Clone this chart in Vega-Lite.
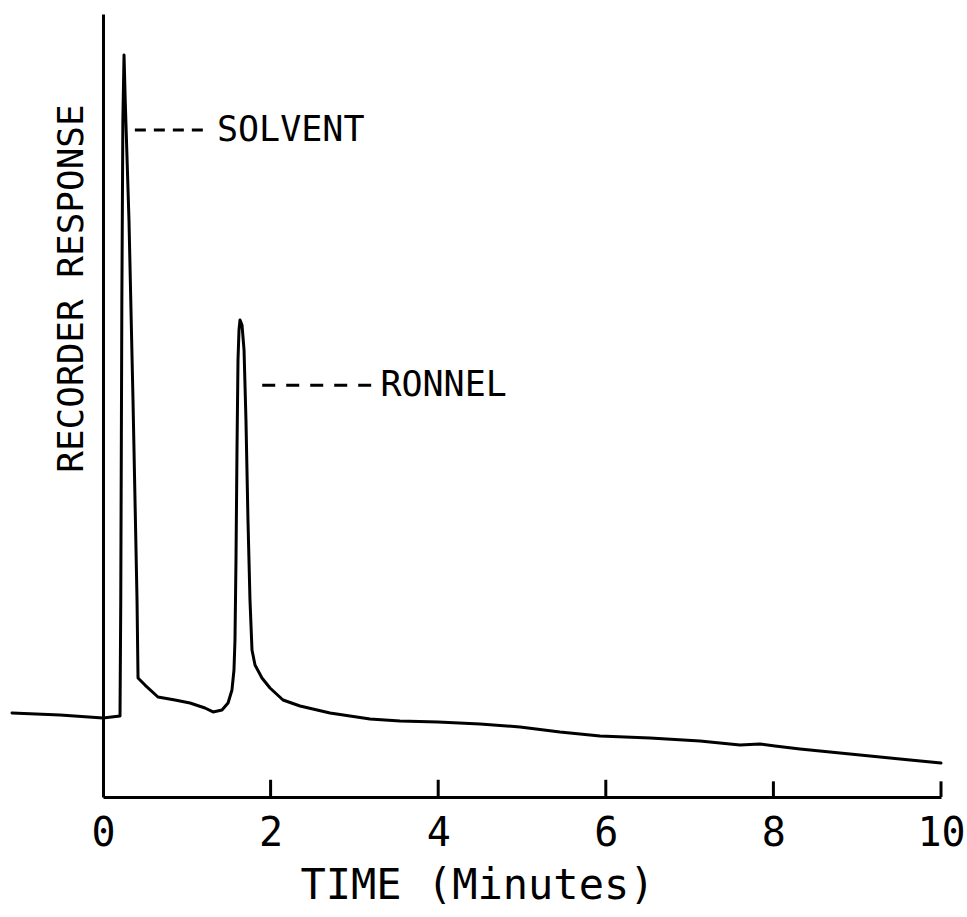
{
  "$schema": "https://vega.github.io/schema/vega-lite/v6.json",
  "autosize": {"type": "none"},
  "padding": {"left": 103, "top": 14, "right": 26, "bottom": 120},
  "width": 838,
  "height": 783,
  "background": "white",
  "config": {"view": {"stroke": null}, "font": "DejaVu Sans Mono"},
  "datasets": {
    "trace": [
      {"t": -1.086, "r": 10.73}, {"t": -0.513, "r": 10.47}, {"t": 0.0, "r": 10.09},
      {"t": 0.203, "r": 10.34}, {"t": 0.212, "r": 25.16}, {"t": 0.225, "r": 63.47},
      {"t": 0.237, "r": 86.46}, {"t": 0.251, "r": 94.76}, {"t": 0.265, "r": 89.02},
      {"t": 0.31, "r": 73.69}, {"t": 0.358, "r": 50.7}, {"t": 0.406, "r": 25.16},
      {"t": 0.418, "r": 15.2}, {"t": 0.501, "r": 14.3}, {"t": 0.656, "r": 12.77},
      {"t": 0.859, "r": 12.39}, {"t": 1.038, "r": 12.01}, {"t": 1.217, "r": 11.37},
      {"t": 1.313, "r": 10.86}, {"t": 1.42, "r": 11.11}, {"t": 1.492, "r": 12.01},
      {"t": 1.539, "r": 13.67}, {"t": 1.563, "r": 16.22}, {"t": 1.575, "r": 20.05},
      {"t": 1.587, "r": 30.27}, {"t": 1.599, "r": 44.32}, {"t": 1.611, "r": 55.81},
      {"t": 1.623, "r": 59.64}, {"t": 1.635, "r": 60.92}, {"t": 1.659, "r": 60.28},
      {"t": 1.683, "r": 57.09}, {"t": 1.706, "r": 48.15}, {"t": 1.73, "r": 35.38},
      {"t": 1.754, "r": 25.16}, {"t": 1.778, "r": 18.77}, {"t": 1.814, "r": 16.86},
      {"t": 1.897, "r": 15.2}, {"t": 1.993, "r": 13.92}, {"t": 2.148, "r": 12.39},
      {"t": 2.351, "r": 11.62}, {"t": 2.709, "r": 10.73}, {"t": 3.186, "r": 9.96},
      {"t": 3.544, "r": 9.71}, {"t": 3.998, "r": 9.58}, {"t": 4.499, "r": 9.32},
      {"t": 4.976, "r": 8.94}, {"t": 5.453, "r": 8.3}, {"t": 5.931, "r": 7.79},
      {"t": 6.527, "r": 7.54}, {"t": 7.124, "r": 7.15}, {"t": 7.601, "r": 6.64},
      {"t": 7.84, "r": 6.77}, {"t": 8.019, "r": 6.51}, {"t": 8.317, "r": 6.13},
      {"t": 8.914, "r": 5.49}, {"t": 9.511, "r": 4.85}, {"t": 10.0, "r": 4.34}
    ],
    "peaks": [
      {"name": "SOLVENT", "x1": 0.38, "x2": 1.24, "tx": 1.36, "r": 85.2},
      {"name": "RONNEL", "x1": 1.9, "x2": 3.2, "tx": 3.31, "r": 52.6}
    ],
    "ticks": [
      {"t": 2, "r0": 0, "r1": 2.2}, {"t": 4, "r0": 0, "r1": 2.2}, {"t": 6, "r0": 0, "r1": 2.2},
      {"t": 8, "r0": 0, "r1": 2.0}, {"t": 10, "r0": 0, "r1": 2.0}
    ]
  },
  "layer": [
    {
      "data": {"name": "trace"},
      "mark": {"type": "line", "color": "black", "strokeWidth": 3, "strokeJoin": "round", "strokeCap": "round"},
      "encoding": {
        "x": {
          "field": "t", "type": "quantitative",
          "scale": {"domain": [0, 10], "nice": false, "zero": false},
          "axis": {
            "values": [0, 2, 4, 6, 8, 10],
            "format": "d",
            "title": "TIME (Minutes)",
            "grid": false, "ticks": false,
            "domainColor": "black", "domainWidth": 3,
            "labelFont": "DejaVu Sans Mono", "labelFontSize": 40, "labelColor": "black",
            "labelPadding": 16, "labelBaseline": "top", "labelFlush": false,
            "titleFont": "DejaVu Sans Mono", "titleFontSize": 42, "titleFontWeight": "normal",
            "titleColor": "black", "titleX": 374, "titleY": 101, "titleAlign": "center",
            "titleBaseline": "alphabetic"
          }
        },
        "y": {
          "field": "r", "type": "quantitative",
          "scale": {"domain": [0, 100], "nice": false, "zero": false},
          "axis": {
            "title": "RECORDER RESPONSE",
            "grid": false, "ticks": false, "labels": false,
            "domainColor": "black", "domainWidth": 3,
            "titleFont": "DejaVu Sans Mono", "titleFontSize": 36, "titleFontWeight": "normal",
            "titleColor": "black", "titleAngle": 270, "titleX": -32, "titleY": 274,
            "titleAlign": "center", "titleBaseline": "middle"
          }
        },
        "order": {"field": "t", "type": "quantitative"}
      }
    },
    {
      "data": {"name": "ticks"},
      "mark": {"type": "rule", "color": "black", "strokeWidth": 3},
      "encoding": {
        "x": {"field": "t", "type": "quantitative"},
        "y": {"field": "r0", "type": "quantitative"},
        "y2": {"field": "r1"}
      }
    },
    {
      "data": {"name": "peaks"},
      "mark": {"type": "rule", "color": "black", "strokeWidth": 3},
      "encoding": {
        "x": {"field": "x1", "type": "quantitative"},
        "x2": {"field": "x2"},
        "y": {"field": "r", "type": "quantitative"},
        "strokeDash": {
          "field": "name", "type": "nominal", "legend": null,
          "scale": {"domain": ["SOLVENT", "RONNEL"], "range": [[11, 8], [13, 11]]}
        }
      }
    },
    {
      "data": {"name": "peaks"},
      "mark": {"type": "text", "align": "left", "baseline": "middle", "font": "DejaVu Sans Mono", "fontSize": 35, "color": "black"},
      "encoding": {
        "x": {"field": "tx", "type": "quantitative"},
        "y": {"field": "r", "type": "quantitative"},
        "text": {"field": "name"}
      }
    }
  ]
}
